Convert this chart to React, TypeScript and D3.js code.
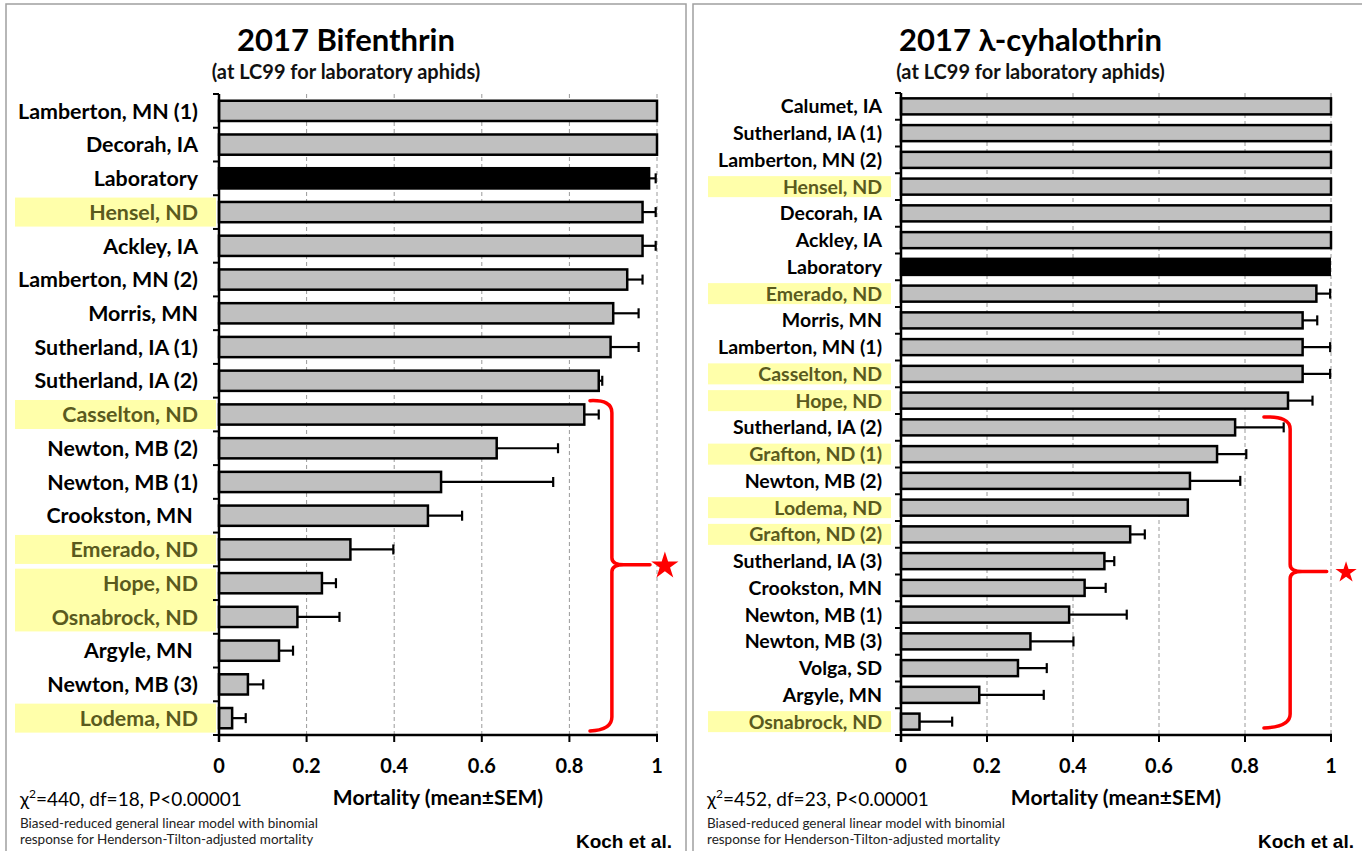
import React from "react";
import * as d3 from "d3";

// ---------- Data ----------
const bifCategories = [
  "Lamberton, MN (1)", "Decorah, IA", "Laboratory", "Hensel, ND", "Ackley, IA",
  "Lamberton, MN (2)", "Morris, MN", "Sutherland, IA (1)", "Sutherland, IA (2)",
  "Casselton, ND", "Newton, MB (2)", "Newton, MB (1)", "Crookston, MN\u00a0",
  "Emerado, ND", "Hope, ND", "Osnabrock, ND", "Argyle, MN\u00a0", "Newton, MB (3)", "Lodema, ND",
];
const bifMean = [1.0, 1.0, 0.982, 0.967, 0.967, 0.932, 0.9, 0.894, 0.867, 0.834, 0.634, 0.507, 0.477, 0.3, 0.235, 0.179, 0.137, 0.066, 0.03];
const bifSem = [0, 0, 0.015, 0.03, 0.03, 0.035, 0.058, 0.064, 0.008, 0.033, 0.14, 0.256, 0.078, 0.098, 0.032, 0.096, 0.032, 0.035, 0.031];
const bifMergedHighlights = [["Hope, ND", "Osnabrock, ND"]];

const lcyCategories = [
  "Calumet, IA", "Sutherland, IA (1)", "Lamberton, MN (2)", "Hensel, ND", "Decorah, IA",
  "Ackley, IA", "Laboratory", "Emerado, ND", "Morris, MN", "Lamberton, MN (1)",
  "Casselton, ND", "Hope, ND", "Sutherland, IA (2)", "Grafton, ND (1)", "Newton, MB (2)",
  "Lodema, ND", "Grafton, ND (2)", "Sutherland, IA (3)", "Crookston, MN", "Newton, MB (1)",
  "Newton, MB (3)", "Volga, SD", "Argyle, MN", "Osnabrock, ND",
];
const lcyMean = [1, 1, 1, 1, 1, 1, 0.997, 0.966, 0.934, 0.934, 0.934, 0.9, 0.777, 0.735, 0.672, 0.667, 0.533, 0.473, 0.427, 0.391, 0.301, 0.272, 0.182, 0.043];
const lcySem = [0, 0, 0, 0, 0, 0, 0, 0.032, 0.034, 0.064, 0.064, 0.057, 0.113, 0.068, 0.117, 0, 0.034, 0.023, 0.049, 0.134, 0.1, 0.067, 0.15, 0.076];
const lcyMergedHighlights: string[][] = [];

const xTicks = [0, 0.2, 0.4, 0.6, 0.8, 1];
const xTickLabels = ["0", "0.2", "0.4", "0.6", "0.8", "1"];

const bifStats = "=440, df=18, P<0.00001";
const lcyStats = "=452, df=23, P<0.00001";
const noteLines = [
  "Biased-reduced general linear model with binomial",
  "response for Henderson-Tilton-adjusted mortality",
];

const FONT = "Lato, 'Open Sans', sans-serif";

type PanelProps = {
  title: string;
  categories: string[];
  mean: number[];
  sem: number[];
  stats: string;
  merged: string[][];
  px0: number; px1: number;
  ax0: number; ax1: number;
  top: number; bottom: number;
  labelX: number; boxX0: number; boxX1: number;
  boxH: number;
  labelSize: number;
  brace: { first: string; last: string; xHook: number; xV: number; xTip: number; xStar: number; topOff: number; botOff: number; starSize: number };
};

function Panel(p: PanelProps) {
  const x = d3.scaleLinear().domain([0, 1]).range([p.ax0, p.ax1]);
  const y = d3.scaleBand<string>().domain(p.categories).range([p.top, p.bottom]).paddingInner(0.4).paddingOuter(0.2);
  const step = y.step();
  const bandTop = (c: string) => (y(c) as number) - y.paddingOuter() * step;
  const center = (c: string) => (y(c) as number) + y.bandwidth() / 2;
  const cx = (p.px0 + p.px1) / 2;

  // highlight boxes
  const hl = p.categories.map((c) => c.includes(", ND"));
  const boxes: { y0: number; y1: number }[] = [];
  p.categories.forEach((c, i) => {
    if (!hl[i]) return;
    const y0 = center(c) - p.boxH / 2;
    const y1 = center(c) + p.boxH / 2;
    const prev = p.categories[i - 1];
    const mergeWithPrev = p.merged.some((g) => g.includes(c) && g.includes(prev));
    if (mergeWithPrev && boxes.length) boxes[boxes.length - 1].y1 = y1;
    else boxes.push({ y0, y1 });
  });

  const boundaries = d3.range(p.categories.length + 1).map((i) => p.top + i * ((p.bottom - p.top) / p.categories.length));

  const b = p.brace;
  const yT = bandTop(b.first) + b.topOff;
  const yB = bandTop(b.last) + step + b.botOff;
  const yM = (yT + yB) / 2;
  const xh = x(b.xHook), xv = x(b.xV), xt = x(b.xTip);
  const bracePath = `M${xh},${yT} Q${xv},${yT - 1} ${xv},${yT + 12} L${xv},${yM - 7} Q${xv},${yM} ${xv + 12},${yM} L${xt},${yM} M${xv + 12},${yM} Q${xv},${yM} ${xv},${yM + 7} L${xv},${yB - 12} Q${xv},${yB + 1} ${xh},${yB + 2}`;
  const star = d3.symbol().type(d3.symbolStar).size(b.starSize)();

  return (
    <g fontFamily={FONT}>
      <rect x={p.px0} y={4} width={p.px1 - p.px0} height={860} fill="#fff" stroke="#a0a0a0" strokeWidth={1.5} />
      <text x={cx} y={51} textAnchor="middle" fontSize={31} fontWeight={700} fill="#000">{p.title}</text>
      <text x={cx} y={79} textAnchor="middle" fontSize={20} fontWeight={700} fill="#111">(at LC99 for laboratory aphids)</text>

      {boxes.map((bx, i) => (
        <rect key={i} x={p.boxX0} y={bx.y0} width={p.boxX1 - p.boxX0} height={bx.y1 - bx.y0} fill="#ffffaa" />
      ))}

      {xTicks.slice(1).map((t) => (
        <line key={t} x1={x(t)} x2={x(t)} y1={p.top} y2={p.bottom} stroke="#9a9a9a" strokeWidth={1} strokeDasharray="4,3" />
      ))}

      {p.categories.map((c, i) => {
        const v = p.mean[i];
        const e = p.sem[i];
        const isLab = c === "Laboratory";
        const cy = center(c);
        return (
          <g key={c}>
            <rect x={x(0)} y={y(c)} width={x(v) - x(0)} height={y.bandwidth()} fill={isLab ? "#000" : "#c0c0c0"} stroke="#000" strokeWidth={2.5} />
            {e > 0 && (
              <g stroke="#000" strokeWidth={2.2}>
                <line x1={x(v)} x2={x(v + e)} y1={cy} y2={cy} />
                <line x1={x(v + e)} x2={x(v + e)} y1={cy - 5} y2={cy + 5} />
              </g>
            )}
            <text x={p.labelX} y={cy} dy="0.36em" textAnchor="end" fontSize={p.labelSize} fontWeight={700} fill={hl[i] ? "#5a5a1e" : "#000"}>{c}</text>
          </g>
        );
      })}

      {/* axes */}
      <line x1={x(0)} x2={x(0)} y1={p.top} y2={p.bottom + 7} stroke="#000" strokeWidth={2.5} />
      {boundaries.map((by, i) => (
        <line key={i} x1={x(0) - 6} x2={x(0)} y1={by} y2={by} stroke="#000" strokeWidth={2} />
      ))}
      <line x1={x(0) - 1} x2={x(1) + 1} y1={p.bottom} y2={p.bottom} stroke="#000" strokeWidth={2.5} />
      {xTicks.map((t, i) => (
        <g key={t}>
          <line x1={x(t)} x2={x(t)} y1={p.bottom} y2={p.bottom + 7} stroke="#000" strokeWidth={2} />
          <text x={x(t)} y={p.bottom + 38} textAnchor="middle" fontSize={20} fontWeight={700}>{xTickLabels[i]}</text>
        </g>
      ))}
      <text x={(x(0) + x(1)) / 2} y={805} textAnchor="middle" fontSize={21} fontWeight={700}>Mortality (mean±SEM)</text>

      <text x={p.px0 + 14} y={806} fontSize={19}>
        χ<tspan fontSize={12} dy={-8}>2</tspan><tspan dy={8}>{p.stats}</tspan>
      </text>
      {noteLines.map((l, i) => (
        <text key={i} x={p.px0 + 14} y={828 + i * 16} fontSize={13.5} fill="#222">{l}</text>
      ))}
      <text x={p.px1 - 14} y={848} textAnchor="end" fontSize={19} fontWeight={700} fontFamily="'Liberation Sans', Arial, sans-serif">Koch et al.</text>

      {/* significance brace */}
      <path d={bracePath} fill="none" stroke="#ff0000" strokeWidth={3.5} strokeLinecap="round" />
      <path d={star as string} transform={`translate(${x(b.xStar)},${yM + 1})`} fill="#ff0000" />
    </g>
  );
}

export default function App() {
  return (
    <svg width={1362} height={851} style={{ position: "absolute", left: 0, top: 0, background: "#fff" }}>
      <rect width={1362} height={851} fill="#fff" />
      <Panel
        title="2017 Bifenthrin" categories={bifCategories} mean={bifMean} sem={bifSem} stats={bifStats} merged={bifMergedHighlights}
        px0={6} px1={686} ax0={219} ax1={657} top={94} bottom={735}
        labelX={198} boxX0={15} boxX1={216} boxH={29} labelSize={21.4}
        brace={{ first: "Casselton, ND", last: "Lodema, ND", xHook: 0.847, xV: 0.897, xTip: 0.984, xStar: 1.018, topOff: 3, botOff: -6, starSize: 230 }}
      />
      <Panel
        title="2017 λ-cyhalothrin" categories={lcyCategories} mean={lcyMean} sem={lcySem} stats={lcyStats} merged={lcyMergedHighlights}
        px0={693} px1={1368} ax0={901} ax1={1331} top={93} bottom={735}
        labelX={882} boxX0={708} boxX1={891} boxH={21} labelSize={19.5}
        brace={{ first: "Sutherland, IA (2)", last: "Osnabrock, ND", xHook: 0.844, xV: 0.905, xTip: 0.99, xStar: 1.035, topOff: 3, botOff: -9, starSize: 140 }}
      />
    </svg>
  );
}
